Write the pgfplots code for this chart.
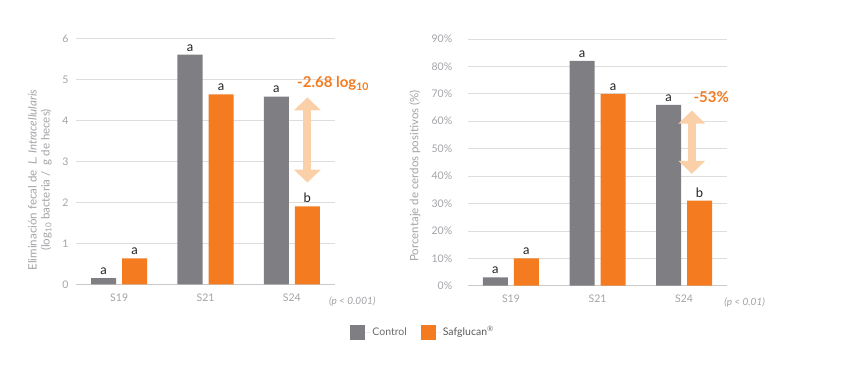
\documentclass[border=0pt]{standalone}
\usepackage{fontspec}
\setmainfont{Lato}
\usepackage{pgfplots}
\pgfplotsset{compat=1.18}
\usetikzlibrary{arrows.meta}
\definecolor{cgray}{HTML}{7F7F83}
\definecolor{corange}{HTML}{F47B20}
\definecolor{carrow}{HTML}{F9D0A8}
\definecolor{cgrid}{HTML}{DDDDDD}
\definecolor{ctext}{HTML}{A3A3A8}
\definecolor{cdark}{HTML}{222222}
\pgfplotsset{
  mybars/.style={
    scale only axis, width=259pt, height=246pt,
    xmin=-0.5, xmax=2.5, ymin=0,
    ybar=6pt, bar width=25pt,
    xtick={0,1,2}, xticklabels={S19,S21,S24},
    ymajorgrids, grid style={cgrid, line width=0.7pt},
    axis lines=left, y axis line style={draw=none},
    x axis line style={draw=cgrid!80!gray, line width=0.7pt, -},
    major tick length=0pt,
    tick label style={font=\fontsize{10.5}{12}\selectfont, text=ctext},
    /pgf/number format/assume math mode=true,
    xticklabel style={yshift=-6pt},
    yticklabel style={xshift=-4pt},
    clip=false,
    point meta=explicit symbolic,
    nodes near coords,
    every node near coord/.append style={font=\fontsize{13}{14}\selectfont, text=cdark, yshift=0pt},
  }
}
\begin{document}
\begin{tikzpicture}
\path[use as bounding box] (0pt,0pt) rectangle (857pt,370pt);
% left chart
\begin{axis}[mybars, at={(76pt,85.7pt)}, anchor=south west,
  ymax=6, ytick={0,1,...,6},
  every axis y label/.style={at={(axis description cs:-0.139,0.424)}, rotate=90, anchor=center, align=center,
    font=\fontsize{11.5}{13}\selectfont, text=ctext},
  ylabel={Eliminación fecal de \ \textit{L. Intracellularis}\\(log\textsubscript{10} bacteria / \ g de heces)},
  legend columns=2,
  legend style={at={(axis description cs:1.34,-0.194)}, anchor=center, draw=none, fill=none,
    font=\fontsize{10.5}{12}\selectfont, text=gray!85!black,
    /tikz/every even column/.append style={column sep=12pt}},
  legend image code/.code={\fill[#1,draw=none] (0pt,-7.5pt) rectangle (15pt,7.5pt); \path (0pt,0pt) -- (20pt,0pt);},
]
\addplot[fill=cgray, draw=none] coordinates {(0,0.15) [a] (1,5.6) [a] (2,4.58) [a]};
\addplot[fill=corange, draw=none] coordinates {(0,0.63) [a] (1,4.63) [a] (2,1.9) [b]};
\legend{Control, \textcolor{gray!70!black}{Safglucan}\textsuperscript{®}}
\draw[carrow, line width=8pt, {Triangle[width=26pt,length=13pt]}-{Triangle[width=26pt,length=13pt]}]
  (axis cs:2.18,4.56) -- (axis cs:2.18,2.48);
\node[text=corange, font=\bfseries\fontsize{15}{16}\selectfont, anchor=west, inner sep=0pt] at (axis cs:2.06,4.9) {-2.68 log\textsubscript{10}};
\node[text=ctext, font=\itshape\fontsize{10}{12}\selectfont] at (axis cs:2.70,-0.42) {(p < 0.001)};
\end{axis}
% right chart
\begin{axis}[mybars, at={(467.7pt,84.3pt)}, anchor=south west, width=259.6pt, height=246.7pt,
  ymax=90, ytick={0,10,...,90},
  yticklabel={\pgfmathprintnumber{\tick}\%},
  yticklabel style={xshift=-8pt},
  every axis y label/.style={at={(axis description cs:-0.203,0.445)}, rotate=90, anchor=center,
    font=\fontsize{11.5}{13}\selectfont, text=ctext},
  ylabel={Porcentaje de cerdos positivos (\%)},
]
\addplot[fill=cgray, draw=none] coordinates {(0,3) [a] (1,82) [a] (2,66) [a]};
\addplot[fill=corange, draw=none] coordinates {(0,10) [a] (1,70) [a] (2,31) [b]};
\draw[carrow, line width=8pt, {Triangle[width=26pt,length=13pt]}-{Triangle[width=26pt,length=13pt]}]
  (axis cs:2.09,63.9) -- (axis cs:2.09,40.8);
\node[text=corange, font=\bfseries\fontsize{15}{16}\selectfont] at (axis cs:2.315,68.8) {-53\%};
\node[text=ctext, font=\itshape\fontsize{10}{12}\selectfont] at (axis cs:2.70,-6.0) {(p < 0.01)};
\end{axis}
\end{tikzpicture}
\end{document}
